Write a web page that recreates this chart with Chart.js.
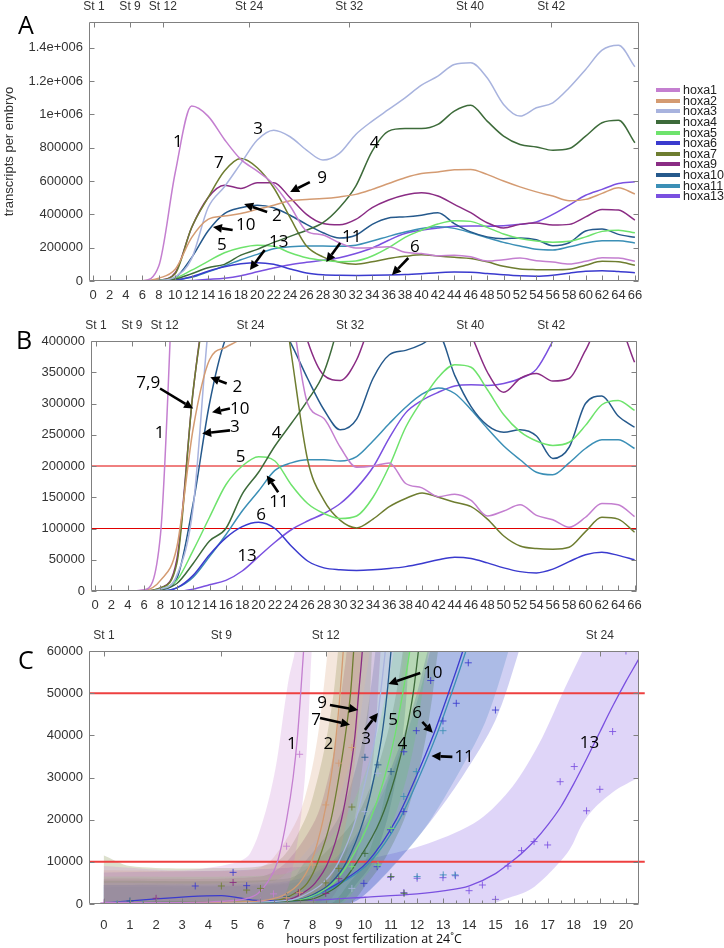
<!DOCTYPE html>
<html>
<head>
<meta charset="utf-8">
<title>hoxa transcripts</title>
<script src="https://cdn.jsdelivr.net/npm/chart.js@4.4.1/dist/chart.umd.min.js"></script>
<style>
  html, body { margin: 0; padding: 0; background: #fff; }
  body { width: 724px; height: 948px; position: relative; overflow: hidden; font-family: 'Liberation Sans', Arial, sans-serif; }
  canvas { position: absolute; left: 0; }
  .letter { position: absolute; font-family: 'Open Sans', sans-serif; font-size: 25px; line-height: 1; color: #000; }
  #legend { position: absolute; left: 656px; top: 85px; font-size: 12.5px; color: #222; }
  #legend div { display: flex; align-items: center; height: 10.6px; white-space: nowrap; }
  #legend .sw { display: inline-block; width: 24px; height: 4px; margin-right: 3px; }
  #xtitle { position: absolute; left: 274px; width: 200px; top: 931px; text-align: center; font-family: 'Open Sans', sans-serif; font-size: 12.5px; line-height: 16px; color: #111; white-space: nowrap; }
</style>
</head>
<body>
<canvas id="chartA" width="724" height="300" style="top:0"></canvas>
<canvas id="chartB" width="724" height="310" style="top:300px"></canvas>
<canvas id="chartC" width="724" height="338" style="top:610px"></canvas>
<div class="letter" style="left:18px;top:12px">A</div>
<div class="letter" style="left:16px;top:327px">B</div>
<div class="letter" style="left:18px;top:647px">C</div>
<div id="legend"></div>
<div id="xtitle">hours post fertilization at 24˚C</div>
<script>
// ── PANELS A + B: transcripts per embryo, every 2 h ──
const HOURS = [0,2,4,6,8,10,12,14,16,18,20,22,24,26,28,30,32,34,36,38,40,42,44,46,48,50,52,54,56,58,60,62,64,66];
const hoxa1  = [0,0,0,2000,90000,650000,1050000,990000,850000,730000,660000,580000,450000,300000,276000,230000,198000,200000,205000,172000,165000,151000,155000,145000,120000,128000,138000,121000,114000,102000,118000,140000,138000,119000];
const hoxa2  = [0,0,0,1000,17000,70000,260000,370000,390000,405000,430000,455000,482000,490000,495000,505000,520000,550000,585000,620000,645000,655000,668000,670000,640000,600000,565000,535000,510000,482000,490000,526000,560000,522000];
const hoxa3  = [0,0,0,0,3000,25000,134000,440000,566000,706000,846000,905000,866000,786000,726000,766000,880000,960000,1030000,1100000,1176000,1230000,1300000,1310000,1220000,1060000,990000,1040000,1070000,1160000,1270000,1386000,1415000,1286000];
const hoxa4  = [0,0,0,0,2000,12000,44000,80000,100000,155000,190000,232000,268000,305000,350000,440000,570000,780000,900000,915000,915000,940000,1020000,1055000,960000,870000,820000,805000,785000,795000,870000,950000,965000,830000];
const hoxa5  = [0,0,0,0,3000,17000,65000,118000,170000,200000,215000,208000,170000,140000,124000,116000,120000,150000,200000,262000,305000,342000,362000,358000,322000,282000,255000,240000,233000,238000,265000,298000,305000,289000];
const hoxa6  = [0,0,0,0,0,5000,25000,58000,85000,103000,110000,100000,72000,48000,37000,34000,33000,34000,36000,39000,44000,50000,54000,52000,45000,37000,31000,29000,35000,47000,58000,62000,57000,50000];
const hoxa7  = [0,0,0,0,5000,44000,321000,500000,660000,735000,680000,560000,380000,210000,145000,113000,101000,115000,135000,148000,157000,150000,142000,135000,115000,88000,72000,68000,67000,70000,95000,118000,115000,94000];
const hoxa9  = [0,0,0,0,5000,50000,320000,500000,575000,556000,590000,590000,500000,400000,345000,337000,370000,440000,486000,516000,530000,510000,460000,410000,350000,318000,340000,348000,336000,340000,385000,430000,426000,366000];
const hoxa10 = [0,0,0,0,2000,20000,140000,300000,405000,440000,455000,440000,395000,340000,290000,258000,275000,340000,378000,385000,395000,410000,345000,295000,265000,254000,258000,248000,212000,230000,300000,312000,280000,262000];
const hoxa11 = [0,0,0,0,0,5000,22000,55000,90000,128000,160000,193000,205000,210000,210000,208000,215000,240000,268000,294000,315000,325000,316000,290000,260000,232000,210000,190000,186000,205000,228000,242000,242000,228000];
const hoxa13 = [0,0,0,0,0,0,3000,10000,17000,32000,55000,78000,98000,112000,124000,140000,165000,198000,245000,285000,305000,318000,328000,330000,329000,332000,340000,355000,400000,456000,515000,550000,585000,596000];

const GENES  = ['hoxa1','hoxa2','hoxa3','hoxa4','hoxa5','hoxa6','hoxa7','hoxa9','hoxa10','hoxa11','hoxa13'];
const COLORS = ['#c47fd0','#d49b72','#a8b3de','#3d6b3a','#6ee36c','#3a3ace','#6e7d30','#8a2c84','#25598c','#3b8fb6','#7a50e0'];
const SERIES = [hoxa1, hoxa2, hoxa3, hoxa4, hoxa5, hoxa6, hoxa7, hoxa9, hoxa10, hoxa11, hoxa13];

const STAGES      = ['St 1','St 9','St 12','St 24','St 32','St 40','St 42'];
const STAGE_HOURS = [0.1, 4.5, 8.5, 19, 31.2, 45.9, 55.8];
const HOUR_TICKS  = [0,2,4,6,8,10,12,14,16,18,20,22,24,26,28,30,32,34,36,38,40,42,44,46,48,50,52,54,56,58,60,62,64,66];
const A_TICKS = [0,200000,400000,600000,800000,1000000,1200000,1400000];
const B_TICKS = [0,50000,100000,150000,200000,250000,300000,350000,400000];
const B_RED   = [100000, 200000];

// ── PANEL C: early hours, fitted curve + band + measurements per gene ──
const C_STAGES      = ['St 1','St 9','St 12','St 24'];
const C_STAGE_HOURS = [0, 4.5, 8.5, 19];
const C_HOUR_TICKS  = [0,1,2,3,4,5,6,7,8,9,10,11,12,13,14,15,16,17,18,19,20];
const C_HALF_TICKS  = [0.5,1.5,2.5,3.5,4.5,5.5,6.5,7.5,8.5,9.5,10.5,11.5,12.5,13.5,14.5,15.5,16.5,17.5,18.5,19.5];
const C_TICKS = [0,10000,20000,30000,40000,50000,60000];
const C_RED   = [10000, 50000];

const fit1  = [[0,400],[3,400],[4.5,600],[5.4,1200],[5.9,2500],[6.25,5000],[6.65,10000],[7.0,20000],[7.25,30000],[7.42,40000],[7.54,50000],[7.65,60000],[7.75,70000]];
const fit2  = [[0,300],[5,500],[6.3,1000],[7.0,2500],[7.5,5000],[7.95,10000],[8.4,20000],[8.7,30000],[8.9,40000],[9.05,50000],[9.17,60000],[9.3,70000]];
const fit3  = [[0,300],[5,400],[7.2,1000],[7.8,2500],[8.4,5000],[9.0,10000],[9.65,20000],[10.05,30000],[10.4,40000],[10.6,50000],[10.78,60000],[10.92,70000]];
const fit4  = [[0,300],[5,500],[7.8,1000],[8.5,2500],[9.1,5000],[9.7,10000],[10.6,20000],[11.15,30000],[11.55,40000],[11.85,50000],[12.05,60000],[12.25,70000]];
const fit5  = [[0,300],[5,500],[7.5,1000],[8.2,2500],[8.8,5000],[9.4,10000],[10.2,20000],[10.75,30000],[11.15,40000],[11.45,50000],[11.72,60000],[11.95,70000]];
const fit6  = [[0,300],[4.5,2000],[6,800],[7.5,1000],[8.2,2500],[9.0,5000],[10.1,10000],[11.2,20000],[11.95,30000],[12.62,40000],[13.2,50000],[13.75,60000],[14.25,70000]];
const fit7  = [[0,300],[5,500],[6.7,1000],[7.3,2500],[7.8,5000],[8.2,10000],[8.7,20000],[9.0,30000],[9.25,40000],[9.45,50000],[9.57,60000],[9.7,70000]];
const fit9  = [[0,300],[5,500],[7.0,1000],[7.6,2500],[8.1,5000],[8.6,10000],[9.1,20000],[9.4,30000],[9.62,40000],[9.76,50000],[9.9,60000],[10.0,70000]];
const fit10 = [[0,300],[5,400],[7.4,1000],[8.1,2500],[8.7,5000],[9.3,10000],[9.95,20000],[10.35,30000],[10.65,40000],[10.85,50000],[11.0,60000],[11.15,70000]];
const fit11 = [[0,200],[5,300],[7.6,1000],[8.3,2500],[9.1,5000],[10.2,10000],[11.32,20000],[12.07,30000],[12.74,40000],[13.32,50000],[13.87,60000],[14.37,70000]];
const fit13 = [[0,200],[4,300],[8,900],[10,1600],[12,2400],[13,3100],[14,4300],[15,7200],[15.5,9500],[16,12000],[16.5,15000],[17,18700],[17.5,23000],[18,28500],[18.5,34500],[19,40800],[19.5,47000],[20,52800],[20.5,58200],[21,64000]];

// band outlines: upper edge left->right, then lower edge back
const band1  = [[0,9000],[3,8000],[5,9700],[5.6,12000],[6.2,22000],[6.6,33000],[6.9,46000],[7.1,54000],[7.32,60000],[7.45,70000],[8.1,70000],[7.96,60000],[7.85,45000],[7.7,30000],[7.5,18000],[7.25,9000],[7.0,3000],[6.6,0],[0,0]];
const band2  = [[0,8000],[5.5,8000],[6.35,10000],[7.4,20000],[7.9,30000],[8.2,40000],[8.4,50000],[8.57,60000],[8.7,70000],[10.0,70000],[9.87,60000],[9.8,50000],[9.7,40000],[9.55,30000],[9.3,20000],[8.95,10000],[8.6,5000],[7.9,0],[0,0]];
const band3  = [[0,5000],[6.5,5500],[7.4,10000],[8.65,20000],[9.25,30000],[9.7,40000],[9.95,50000],[10.18,60000],[10.3,70000],[11.65,70000],[11.48,60000],[11.35,50000],[11.2,40000],[10.9,30000],[10.55,20000],[10.0,10000],[9.4,5000],[8.6,0],[0,0]];
const band4  = [[0,5500],[7,6000],[8.1,10000],[9.6,20000],[10.35,30000],[10.85,40000],[11.2,50000],[11.45,60000],[11.6,70000],[13.1,70000],[12.8,60000],[12.6,50000],[12.35,40000],[12.0,30000],[11.5,20000],[10.7,10000],[10.1,5000],[9.3,0],[0,0]];
const band5  = [[0,6500],[6.8,7000],[7.8,10000],[9.2,20000],[9.95,30000],[10.45,40000],[10.8,50000],[11.1,60000],[11.3,70000],[12.75,70000],[12.45,60000],[12.2,50000],[11.95,40000],[11.6,30000],[11.1,20000],[10.4,10000],[9.8,5000],[9.0,0],[0,0]];
const band6  = [[0,4500],[6,4800],[7.5,6000],[8.5,9000],[9.5,15000],[10.5,25000],[11.3,37000],[11.9,48000],[12.4,60000],[12.8,70000],[16.3,70000],[15.9,60000],[15.0,43600],[13.73,30200],[12.45,19100],[11.17,9650],[9.9,1700],[9.3,0],[0,0]];
const band7  = [[0,11500],[1,9000],[4,8500],[6.6,10000],[7.7,20000],[8.2,30000],[8.55,40000],[8.8,50000],[8.97,60000],[9.1,70000],[10.4,70000],[10.27,60000],[10.2,50000],[10.05,40000],[9.85,30000],[9.6,20000],[9.2,10000],[8.8,5000],[8.1,0],[0,0]];
const band9  = [[0,6000],[6,6500],[7.0,10000],[8.1,20000],[8.6,30000],[8.92,40000],[9.1,50000],[9.3,60000],[9.4,70000],[10.7,70000],[10.6,60000],[10.5,50000],[10.4,40000],[10.25,30000],[10.0,20000],[9.6,10000],[9.1,5000],[8.4,0],[0,0]];
const band10 = [[0,4500],[7,5000],[7.7,10000],[8.95,20000],[9.55,30000],[9.95,40000],[10.2,50000],[10.4,60000],[10.5,70000],[11.9,70000],[11.7,60000],[11.6,50000],[11.45,40000],[11.2,30000],[10.85,20000],[10.3,10000],[9.7,5000],[8.9,0],[0,0]];
const band11 = [[0,4000],[6,4200],[7.6,5500],[8.6,9000],[9.6,15000],[10.6,25000],[11.4,37000],[12.0,48000],[12.5,60000],[12.9,70000],[15.9,70000],[15.5,60000],[14.6,43000],[13.4,29000],[12.3,18000],[11.1,9000],[9.9,1700],[9.3,0],[0,0]];
const band13 = [[0,7500],[5,8000],[8,9000],[9.9,10400],[12.45,14400],[14.37,19900],[15.65,27800],[16.68,38100],[17.57,50000],[18.34,60000],[18.9,68000],[21.5,68000],[21,33000],[20.5,30200],[19.6,27000],[18.85,23100],[18.34,19100],[17.83,12800],[17.06,7300],[16.3,3300],[15.27,950],[14.8,0],[0,0]];

const pts1  = [[0,300],[6,700],[6.5,2400],[7,13700],[7.5,35500]];
const pts2  = [[7,1500],[7.5,2700],[8,9250],[8.5,23500],[9,33400],[9.5,37100]];
const pts3  = [[9.5,3700],[10,21900],[10.5,31000]];
const pts4  = [[10,12000],[11,6500],[11.5,2540]];
const pts5  = [[9.5,8850],[10.5,9250],[11,17900]];
const pts6  = [[3.5,4270],[4.95,7500],[5.47,4350],[9.96,4900],[10.47,8850],[10.98,17600],[11.49,21900],[11.49,36100],[11.97,41100],[12.52,53000],[12.99,43400],[13.5,47600],[13.96,57200],[15.0,46000]];
const pts7  = [[4.5,4270],[5.47,3300],[6,3700],[8.5,5000],[9,8450],[9.5,23000]];
const pts9  = [[2,1350],[4.95,5100],[7.45,2700],[8.5,2500],[9,6000]];
const pts10 = [[1,700],[7,1700],[10,34800],[10.5,33000],[11,31400]];
const pts11 = [[0.5,0],[1.5,0],[11.49,25500],[11.97,31400],[12.99,41100],[12,6500],[13,6900],[13.45,6900]];
const pts13 = [[10.98,6330],[11.49,2700],[12.0,6100],[12.51,0],[12.99,6250],[13.47,6700],[13.99,3160],[14.5,4500],[15.0,1100],[15.48,9000],[16.0,12650],[16.48,14800],[17.0,14000],[17.48,29000],[18.02,32600],[18.49,22100],[19.0,27200],[19.49,40900],[20.0,60000]];

const C_FITS  = [fit1, fit2, fit3, fit4, fit5, fit6, fit7, fit9, fit10, fit11, fit13];
const C_BANDS = [band1, band2, band3, band4, band5, band6, band7, band9, band10, band11, band13];
const C_PTS   = [pts1, pts2, pts3, pts4, pts5, pts6, pts7, pts9, pts10, pts11, pts13];

// ── annotations (label, hour, value) and arrows (from -> to) ──
const A_LABELS = [['1',10.34,834000],['3',20.1,912000],['7',15.33,708000],['9',27.9,618000],['2',22.4,390000],['10',18.6,336000],['5',15.7,216000],['13',22.6,234000],['11',31.5,264000],['4',34.3,828000],['6',39.2,204000]];
const A_ARROWS = [[26.4,594000,24.0,534000],[21.2,414000,18.4,462000],[17.0,306000,14.6,324000],[20.9,186000,19.1,66000],[30.1,228000,28.4,114000],[38.4,138000,36.4,36000]];
const B_LABELS = [['7,9',6.5,332000],['2',17.4,326000],['10',17.7,291000],['1',7.9,252000],['3',17.1,262000],['4',22.2,252000],['5',17.8,214000],['11',22.5,142000],['6',20.3,121000],['13',18.6,55000]];
const B_ARROWS = [[7.95,324000,12.0,292000],[16.1,332000,14.1,342000],[16.5,292000,14.3,286000],[16.5,257000,13.1,252000],[22.4,158000,21.0,185000]];
const C_LABELS = [['9',8.36,47700],['7',8.13,43600],['1',7.2,38000],['2',8.6,38000],['10',12.6,54800],['3',10.05,39100],['5',11.08,43600],['4',11.43,38000],['6',12.0,45300],['11',13.8,34900],['13',18.6,38200]];
const C_ARROWS = [[8.66,47200,9.74,46000],[8.28,44100,9.43,42500],[12.12,54800,10.9,52200],[10.0,41300,10.5,45300],[12.2,43200,12.6,40600],[13.35,34900,12.55,35100]];

const INK = '#333';
const FRAME = '#808080';

// ── PLUGINS: gnuplot style frame with inward ticks, number labels + arrows ──
const framePlugin = {
  id: 'frame',
  afterDatasetsDraw(chart, args, o) {
    const {ctx, chartArea: a, scales: s} = chart;
    const L = Math.round(a.left) + 0.5, R = Math.round(a.right) - 0.5;
    const T = Math.round(a.top) + 0.5, B = Math.round(a.bottom) - 0.5;
    ctx.save();
    ctx.strokeStyle = FRAME;
    ctx.lineWidth = 1;
    ctx.beginPath();
    ctx.rect(L, T, R - L, B - T);
    s.x.ticks.forEach(t => {
      const p = Math.round(s.x.getPixelForValue(t.value)) + 0.5;
      ctx.moveTo(p, B); ctx.lineTo(p, B - 5);
    });
    (o.minor || []).forEach(v => {
      const p = Math.round(s.x.getPixelForValue(v)) + 0.5;
      ctx.moveTo(p, B); ctx.lineTo(p, B - 3);
    });
    s.xTop.ticks.forEach(t => {
      const p = Math.round(s.xTop.getPixelForValue(t.value)) + 0.5;
      ctx.moveTo(p, T); ctx.lineTo(p, T + 5);
    });
    s.y.ticks.forEach(t => {
      const p = Math.round(s.y.getPixelForValue(t.value)) + 0.5;
      ctx.moveTo(L, p); ctx.lineTo(L + 5, p);
      ctx.moveTo(R, p); ctx.lineTo(R - 5, p);
    });
    ctx.stroke();
    ctx.restore();
  }
};

const notesPlugin = {
  id: 'notes',
  afterDraw(chart, args, o) {
    const {ctx, scales: {x, y}} = chart;
    ctx.save();
    ctx.fillStyle = '#000';
    ctx.strokeStyle = '#000';
    ctx.font = '17px "Open Sans", sans-serif';
    ctx.textAlign = 'center';
    ctx.textBaseline = 'middle';
    (o.labels || []).forEach(([t, h, v]) => ctx.fillText(t, x.getPixelForValue(h), y.getPixelForValue(v)));
    ctx.lineWidth = 2.6;
    (o.arrows || []).forEach(([h1, v1, h2, v2]) => {
      const x1 = x.getPixelForValue(h1), y1 = y.getPixelForValue(v1);
      const x2 = x.getPixelForValue(h2), y2 = y.getPixelForValue(v2);
      const ang = Math.atan2(y2 - y1, x2 - x1);
      const bx = x2 - 9 * Math.cos(ang), by = y2 - 9 * Math.sin(ang);
      ctx.beginPath(); ctx.moveTo(x1, y1); ctx.lineTo(bx, by); ctx.stroke();
      ctx.beginPath();
      ctx.moveTo(x2, y2);
      ctx.lineTo(bx + 4.5 * Math.sin(ang), by - 4.5 * Math.cos(ang));
      ctx.lineTo(bx - 4.5 * Math.sin(ang), by + 4.5 * Math.cos(ang));
      ctx.closePath(); ctx.fill();
    });
    ctx.restore();
  }
};

// ── helpers ──
const toXY = arr => arr.map(([x, y]) => ({x, y}));
const alpha = (hex, a) => {
  const n = parseInt(hex.slice(1), 16);
  return `rgba(${n >> 16},${(n >> 8) & 255},${n & 255},${a})`;
};

function redLines(levels, x0, x1, width, color, extra) {
  return levels.map(v => ({
    type: 'line', data: [{x: x0, y: v}, {x: x1, y: v}],
    borderColor: color, borderWidth: width, pointRadius: 0, order: 5,
    clip: {left: 0, top: 0, right: extra, bottom: 0}
  }));
}

function seriesDatasets() {
  return GENES.map((g, i) => ({
    type: 'line', label: g,
    data: HOURS.map((h, j) => ({x: h, y: SERIES[i][j]})),
    borderColor: COLORS[i], borderWidth: 1.5, pointRadius: 0,
    cubicInterpolationMode: 'monotone', fill: false, order: 2
  }));
}

const noGrid = {display: false, drawTicks: false};

function axes(c) {
  return {
    x: {
      type: 'linear', min: c.xMin, max: c.xMax,
      afterBuildTicks: s => { s.ticks = c.xTicks.map(value => ({value})); },
      afterFit: s => { s.height = c.bottomH; },
      grid: noGrid, border: {display: false},
      ticks: {autoSkip: false, maxRotation: 0, padding: c.xPad, color: INK,
               font: {size: 13}, callback: v => String(v)}
    },
    xTop: {
      type: 'linear', position: 'top', min: c.xMin, max: c.xMax,
      afterBuildTicks: s => { s.ticks = c.stageHours.map(value => ({value})); },
      afterFit: s => { s.height = c.topH; },
      grid: noGrid, border: {display: false},
      ticks: {autoSkip: false, maxRotation: 0, padding: 8, color: INK,
               font: {size: 12}, callback: (v, i) => c.stages[i]}
    },
    y: {
      type: 'linear', min: c.yMin, max: c.yMax,
      afterBuildTicks: s => { s.ticks = c.yTicks.map(value => ({value})); },
      afterFit: s => { s.width = c.leftW; },
      grid: noGrid, border: {display: false},
      ticks: {autoSkip: false, padding: 6, color: INK, font: {size: 13},
               callback: c.yFmt || (v => String(v))},
      title: c.yTitle ? {display: true, text: c.yTitle, color: INK, padding: {top: 2, bottom: 0},
               font: {size: 13}} : {display: false}
    }
  };
}

function baseOptions(c, plugins) {
  return {
    responsive: false, animation: false, devicePixelRatio: 1,
    layout: {padding: {left: 0, top: 0, bottom: 0, right: c.rightPad}},
    plugins: Object.assign({legend: {display: false}, tooltip: {enabled: false}}, plugins),
    scales: axes(c)
  };
}

Chart.defaults.font.family = "'Liberation Sans', Arial, sans-serif";

// ── A: full range ──
new Chart(document.getElementById('chartA'), {
  type: 'line',
  data: {datasets: seriesDatasets()},
  options: baseOptions({
    xMin: -0.5, xMax: 66.5, xTicks: HOUR_TICKS, xPad: 7,
    stageHours: STAGE_HOURS, stages: STAGES,
    yMin: 0, yMax: 1555000, yTicks: A_TICKS,
    yFmt: v => v >= 1000000 ? (v / 1000000) + 'e+006' : String(v),
    yTitle: 'transcripts per embryo',
    leftW: 89, topH: 22, bottomH: 19, rightPad: 85
  }, {notes: {labels: A_LABELS, arrows: A_ARROWS}, frame: {}}),
  plugins: [framePlugin, notesPlugin]
});

// ── B: zoom to 400000 ──
new Chart(document.getElementById('chartB'), {
  type: 'line',
  data: {datasets: [...seriesDatasets(), ...redLines(B_RED, -1, 67, 1, '#e00000', 0)]},
  options: baseOptions({
    xMin: -0.5, xMax: 66.3, xTicks: HOUR_TICKS, xPad: 7,
    stageHours: STAGE_HOURS, stages: STAGES,
    yMin: 0, yMax: 400000, yTicks: B_TICKS,
    leftW: 91, topH: 41, bottomH: 19, rightPad: 87
  }, {notes: {labels: B_LABELS, arrows: B_ARROWS}, frame: {}}),
  plugins: [framePlugin, notesPlugin]
});

// ── C: first 20 hours with fits ──
const cSets = [];
GENES.forEach((g, i) => {
  cSets.push({
    type: 'line', label: g + ' band', data: toXY(C_BANDS[i]),
    backgroundColor: alpha(COLORS[i], 0.24), borderWidth: 0, pointRadius: 0,
    fill: 'shape', tension: 0.3, order: 10
  });
  cSets.push({
    type: 'line', label: g, data: toXY(C_FITS[i]),
    borderColor: COLORS[i], borderWidth: 1.3, pointRadius: 0,
    cubicInterpolationMode: 'monotone', fill: false, order: 2
  });
  cSets.push({
    type: 'scatter', label: g + ' data', data: toXY(C_PTS[i]),
    borderColor: alpha(COLORS[i], 0.85), backgroundColor: 'transparent',
    pointStyle: 'cross', pointRadius: 3.5, borderWidth: 1, order: 1
  });
});
cSets.push(...redLines(C_RED, -1, 20.72, 2, '#ee4040', 6));

new Chart(document.getElementById('chartC'), {
  type: 'line',
  data: {datasets: cSets},
  options: baseOptions({
    xMin: -0.57, xMax: 20.5, xTicks: C_HOUR_TICKS, xPad: 14,
    stageHours: C_STAGE_HOURS, stages: C_STAGES,
    yMin: 0, yMax: 60000, yTicks: C_TICKS,
    leftW: 89, topH: 41, bottomH: 44, rightPad: 85
  }, {notes: {labels: C_LABELS, arrows: C_ARROWS}, frame: {minor: C_HALF_TICKS}}),
  plugins: [framePlugin, notesPlugin]
});

// ── legend for A ──
document.getElementById('legend').innerHTML = GENES.map((g, i) =>
  `<div><span class="sw" style="background:${COLORS[i]}"></span>${g}</div>`).join('');
</script>
</body>
</html>
